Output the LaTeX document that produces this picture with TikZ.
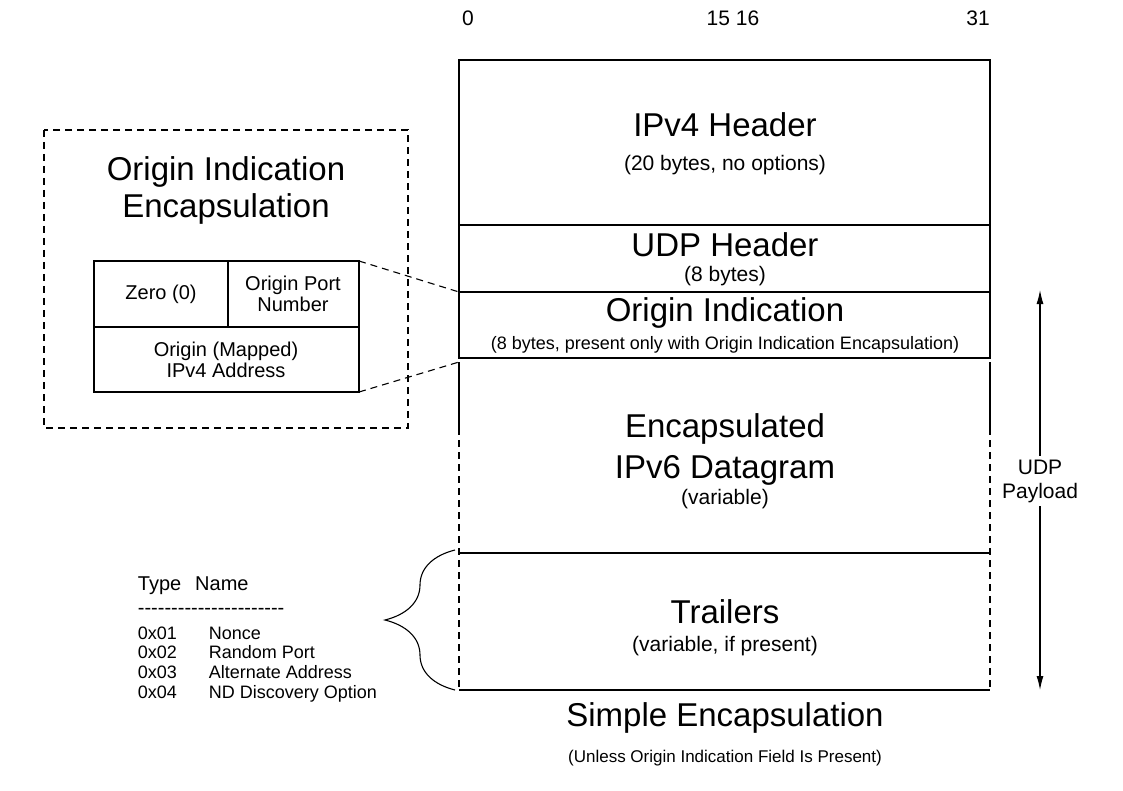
\documentclass[tikz,border=0pt]{standalone}
\usepackage{fontspec}
\setmainfont{Liberation Sans}
\usetikzlibrary{decorations.pathreplacing,arrows.meta}
\newcommand{\fsz}[1]{\fontsize{#1}{#1}\selectfont}
\begin{document}
\begin{tikzpicture}[x=1pt, y=-1pt, line width=1.1pt,
    dsh/.style={dash pattern=on 7pt off 5pt},
    big/.style={font=\fsz{33}, align=center},
    mid/.style={font=\fsz{21}, align=center},
    tbl/.style={font=\fsz{20}, align=center},
    lst/.style={font=\fsz{18}, anchor=base west}]
  \useasboundingbox (0,0) rectangle (1123,791);
  % bit numbers
  \node[mid] (b0) at (468,18) {0};
  \node[mid] (b15) at (733,18) {15 16};
  \node[mid] (b31) at (978,18) {31};
  % main layout
  \draw (459,60) rectangle (990,225);
  \draw (459,225) rectangle (990,292);
  \draw (459,292) rectangle (990,358);
  \draw (459,553) -- (990,553);
  \draw (459,690) -- (990,690);
  \draw (459,362) -- (459,428) (990,362) -- (990,428);
  \draw[dsh] (459,428) -- (459,690) (990,428) -- (990,690);
  \node[big] (ipv4) at (725,125) {IPv4 Header};
  \node[mid] (ipv4s) at (725,165) {(20 bytes, no options)};
  \node[big] (udp) at (725,245) {UDP Header};
  \node[mid] (udps) at (725,276) {(8 bytes)};
  \node[big] (oi) at (725,313) {Origin Indication};
  \node[font=\fsz{18}] (oisub) at (725,345) {(8 bytes, present only with Origin Indication Encapsulation)};
  \node[big] (enc) at (725,449) {Encapsulated\\[8pt]IPv6 Datagram};
  \node[mid] (encs) at (725,499) {(variable)};
  \node[big] (trl) at (725,612) {Trailers};
  \node[mid] (trls) at (725,646) {(variable, if present)};
  \node[big] (simple) at (725,718) {Simple Encapsulation};
  \node[font=\fsz{17}] (unless) at (725,758) {(Unless Origin Indication Field Is Present)};
  % udp payload
  \node[mid] (pay) at (1040,481) {UDP\\[3pt]Payload};
  \draw[-{Latex[length=14pt,width=7pt]}] (pay.north) -- (1040,290);
  \draw[-{Latex[length=14pt,width=7pt]}] (pay.south) -- (1040,690);
  % origin indication encapsulation
  \draw[dsh] (44,130) rectangle (408,428);
  \node[big] (oie) at (226,190) {Origin Indication\\[4pt]Encapsulation};
  \draw (94,261) rectangle (359,392);
  \draw (94,327) -- (359,327) (228,261) -- (228,327);
  \node[tbl] (zero) at (161,294) {Zero (0)};
  \node[tbl] (port) at (293,294) {Origin Port\\[1pt]Number};
  \node[tbl] (addr) at (226,360) {Origin (Mapped)\\[1pt]IPv4 Address};
  \draw[dsh] (359,261) -- (459,292);
  \draw[dsh] (359,392) -- (459,362);
  % trailer types
  \draw[decorate, decoration={brace, amplitude=70pt, aspect=0.5}] (455,690) -- (455,550);
  \node[tbl, anchor=base west] (ty) at (134,590) {Type\hspace{14pt}Name};
  \node[tbl, anchor=base west] (dash) at (134,614) {-{}-{}-{}-{}-{}-{}-{}-{}-{}-{}-{}-{}-{}-{}-{}-{}-{}-{}-{}-{}-{}-};
  \node[lst] (t1) at (134,639) {0x01};
  \node[lst] (t2) at (134,658) {0x02};
  \node[lst] (t3) at (134,678) {0x03};
  \node[lst] (t4) at (134,698) {0x04};
  \node[lst] (n1) at (205,639) {Nonce};
  \node[lst] (n2) at (205,658) {Random Port};
  \node[lst] (n3) at (205,678) {Alternate Address};
  \node[lst] (n4) at (205,698) {ND Discovery Option};
\end{tikzpicture}
\end{document}
